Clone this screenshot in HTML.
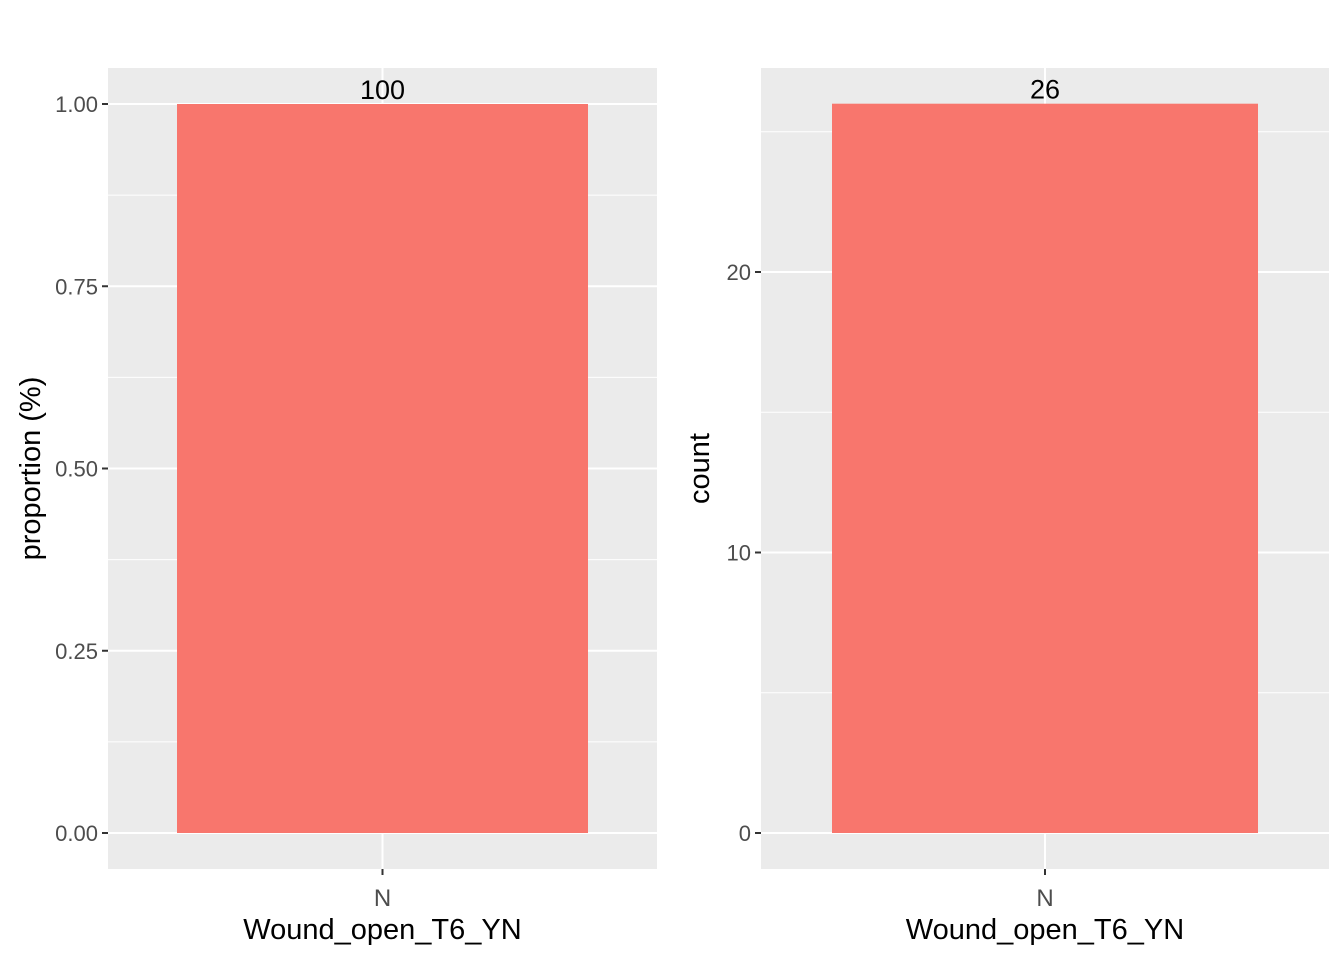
<!DOCTYPE html>
<html><head><meta charset="utf-8"><style>
body{margin:0;background:#fff;}
svg{display:block;font-family:"Liberation Sans",sans-serif;}
</style></head><body>
<svg id="c" width="1344" height="960" viewBox="0 0 1344 960"></svg>
<script>
const categories = ["N"];
const proportionValues = [1.0];
const proportionLabels = ["100"];
const countValues = [26];
const countLabels = ["26"];
const leftTicks = [0, 0.25, 0.5, 0.75, 1.0];
const leftTickLabels = ["0.00", "0.25", "0.50", "0.75", "1.00"];
const rightTicks = [0, 10, 20];
const rightTickLabels = ["0", "10", "20"];

const NS = "http://www.w3.org/2000/svg";
const svg = document.getElementById('c');
function mk(tag, attrs, parent) {
  const e = document.createElementNS(NS, tag);
  for (const k in attrs) e.setAttribute(k, attrs[k]);
  (parent || svg).appendChild(e);
  return e;
}
function panel(name, x0, x1, yTop, yBot, y0px, yScale, ticks, tickLabels, minor, vals, labs, barL, barR, ytitle, ytitleX) {
  const g = mk('g', {});
  
  
  const bg = mk('rect', {x: x0, y: yTop, width: x1 - x0, height: yBot - yTop, fill: '#ebebeb'}, g);
  
  
  const Y = v => y0px - v * yScale;
  minor.forEach(v => {
    const l = mk('line', {x1: x0, x2: x1, y1: Y(v), y2: Y(v), stroke: '#fff', 'stroke-width': 1}, g);
    
    
  });
  ticks.forEach((v, i) => {
    const l = mk('line', {x1: x0, x2: x1, y1: Y(v), y2: Y(v), stroke: '#fff', 'stroke-width': 2}, g);
    
    
    const t = mk('line', {x1: x0 - 6, x2: x0, y1: Y(v), y2: Y(v), stroke: '#333', 'stroke-width': 2}, g);
    
    
    const tx = mk('text', {x: x0 - 10, y: Y(v) + 8, 'text-anchor': 'end', 'font-size': 22, fill: '#4d4d4d'}, g);
    tx.textContent = tickLabels[i];
    
    
  });
  const cx = (barL + barR) / 2;
  const vl = mk('line', {x1: cx, x2: cx, y1: yTop, y2: yBot, stroke: '#fff', 'stroke-width': 2}, g);
  
  
  vals.forEach((v, i) => {
    const b = mk('rect', {x: barL, y: Y(v), width: barR - barL, height: Y(0) - Y(v), fill: '#f8766d'}, g);
    
    
    const lt = mk('text', {x: cx, y: Y(v) - 5, 'text-anchor': 'middle', 'font-size': 27, fill: '#000'}, g);
    lt.textContent = labs[i];
    
    
    const xt = mk('line', {x1: cx, x2: cx, y1: yBot, y2: yBot + 6, stroke: '#333', 'stroke-width': 2}, g);
    
    
    const xl = mk('text', {x: cx, y: yBot + 37, 'text-anchor': 'middle', 'font-size': 24, fill: '#4d4d4d'}, g);
    xl.textContent = categories[i];
    
    
  });
  const xtitle = mk('text', {x: (x0 + x1) / 2, y: 939, 'text-anchor': 'middle', 'font-size': 29, fill: '#000'}, g);
  xtitle.textContent = 'Wound_open_T6_YN';
  
  
  const yc = (yTop + yBot) / 2;
  const yt = mk('text', {x: ytitleX, y: yc, 'text-anchor': 'middle', 'font-size': 29, fill: '#000', transform: 'rotate(-90 ' + ytitleX + ' ' + yc + ')'}, g);
  yt.textContent = ytitle;
  
  
}
panel('proportion', 108, 657, 68, 869, 833, 729, leftTicks, leftTickLabels, [0.125, 0.375, 0.625, 0.875], proportionValues, proportionLabels, 177, 588, 'proportion (%)', 40);
panel('count', 761, 1329, 68, 869, 833, 28.05, rightTicks, rightTickLabels, [5, 15, 25], countValues, countLabels, 832, 1258, 'count', 709);
</script>
</body></html>
